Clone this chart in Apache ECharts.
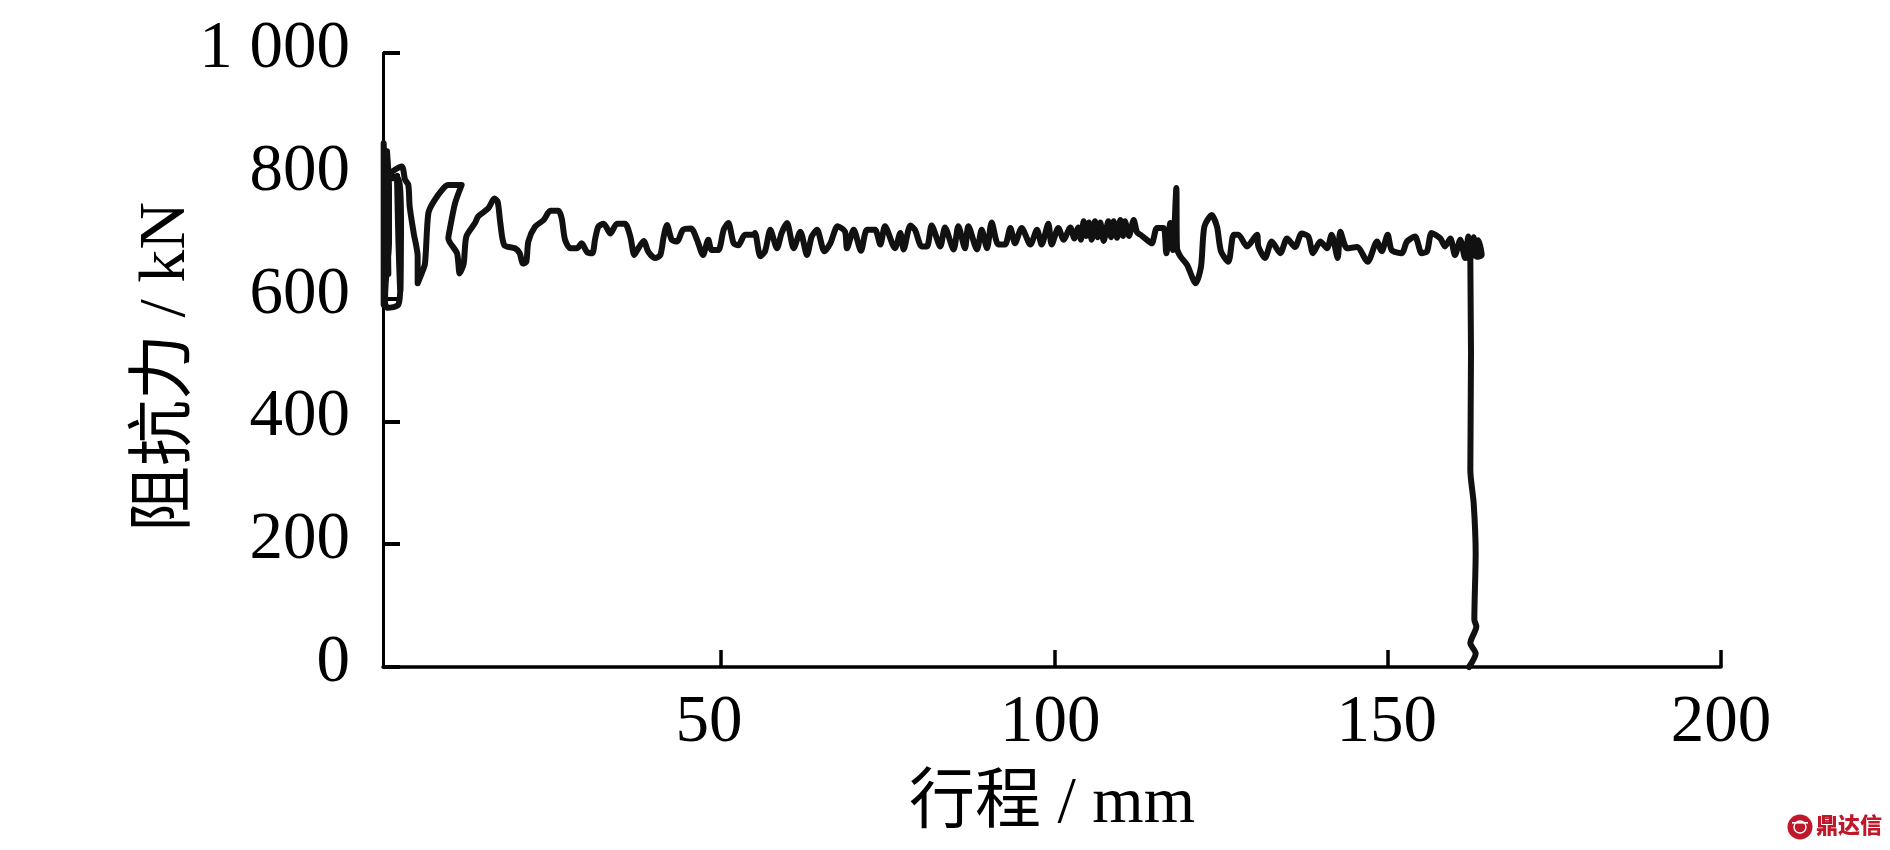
<!DOCTYPE html>
<html><head><meta charset="utf-8">
<style>html,body{margin:0;padding:0;background:#fff}#c{width:1890px;height:850px}</style>
<script src="https://cdn.jsdelivr.net/npm/echarts@6/dist/echarts.min.js"></script>
</head><body><div id="c"></div>
<script>
const xTicks = [50, 100, 150, 200];
const yTickLabels = {0:'0',200:'200',400:'400',600:'600',800:'800',1000:'1 000'};
const xTitle = '行程 / mm';
const yTitle = '阻抗力 / kN';
const travel = [
-0.6,-0.6,0.1,-0.1,0.2,0.2,-0.3,-0.4,0.0,1.6,1.9,1.6,1.8,1.4,1.6,1.9,2.0,1.5,-0.6,2.1,2.6,3.1,3.3,3.9,4.5,4.5,
5.1,5.6,6.1,6.9,8.4,9.1,11.1,10.1,9.3,9.1,10.4,10.8,11.4,11.8,13.1,13.6,15.1,16.0,16.5,16.9,17.5,19.1,19.8,20.3,20.8,21.1,22.1,23.4,24.4,25.6,26.1,26.6,27.4,28.4,29.1,29.9,30.7,31.1,31.6,32.4,33.4,34.4,35.6,36.4,37.0,37.6,38.4,39.1,40.1,40.9,41.4,41.9,42.6,43.4,44.3,45.5,46.4,47.3,48.1,48.6,49.6,50.4,51.1,51.9,52.6,53.6,54.9,
55.1,55.9,56.6,57.4,58.4,59.1,59.9,60.9,61.9,62.9,63.6,64.4,65.5,66.4,67.5,68.6,68.9,69.9,71.0,71.9,73.1,73.9,74.6,76.1,76.9,77.4,78.4,79.1,80.1,80.9,81.6,82.9,83.6,84.9,85.6,86.6,87.1,88.4,89.1,89.9,90.6,91.6,92.6,93.4,94.1,95.1,96.4,97.4,98.1,99.1,99.6,100.6,101.4,
102.4,103.0,103.6,104.0,104.4,104.8,105.2,105.6,106.1,106.5,106.9,107.4,108.1,108.5,108.9,109.4,109.9,110.3,110.6,111.2,111.9,112.4,112.9,
113.6,114.6,115.4,116.4,116.8,117.4,117.8,118.3,118.4,118.9,119.9,121.2,122.0,122.5,123.6,124.4,125.0,126.1,126.9,127.6,128.9,130.4,130.6,131.6,132.6,133.9,134.9,136.1,137.1,138.1,138.8,139.9,140.9,141.6,142.5,142.9,143.9,145.4,147.0,148.4,149.1,150.0,150.6,152.1,152.9,154.1,155.1,155.9,156.6,157.9,158.6,159.4,160.1,160.9,161.6,
162.1,162.4,162.9,163.2,163.6,164.1,163.4,162.6,162.1,163.1,162.4,
162.5,162.4,162.9,163.2,163.0,163.3,162.4,163.2,162.2];
const force = [
590,853,640,840,780,690,625,593,585,590,625,700,780,800,700,610,720,796,796,815,794,785,750,707,669,625,
641,657,739,758,780,785,785,755,712,698,674,641,657,701,723,734,747,763,758,723,687,682,674,657,660,693,717,728,743,743,731,696,682,682,690,676,674,696,717,722,706,722,722,701,671,682,694,676,666,671,701,720,696,693,712,714,696,671,696,679,679,712,723,690,687,704,704,
707,669,677,712,682,707,723,682,709,671,701,712,677,690,718,709,682,712,678,712,712,688,718,682,707,680,719,712,685,685,719,685,716,680,718,682,718,680,712,682,724,688,688,715,690,715,688,712,688,722,688,715,696,
716,698,716,696,726,702,724,696,726,700,724,694,726,700,726,699,728,702,726,702,728,708,704,
698,690,715,715,674,723,679,780,682,669,655,625,652,717,736,717,677,660,704,704,685,704,685,666,693,674,698,684,706,701,674,693,682,704,666,709,682,684,660,693,677,704,679,674,693,701,674,677,707,698,685,698,671,696,666,
701,668,700,672,695,671,668,690,666,682,663,
511,321,267,185,77,66,39,22,0];
// The x tick labels sit a little left of their ticks in the reference.
const xLabelShift = {50:'far',100:'mid',150:'near',200:'none'};

const font = '"Liberation Serif","Noto Sans CJK SC",serif';
const ink = '#000';
const chart = echarts.init(document.getElementById('c'), null, {renderer:'canvas'});
chart.setOption({
  animation:false,
  backgroundColor:'#fff',
  grid:{left:383,right:169,top:53,bottom:183,containLabel:false,outerBoundsMode:'none'},
  xAxis:{
    type:'value',min:-0.7,max:200,
    name:xTitle,nameLocation:'middle',nameGap:105,
    nameTextStyle:{fontFamily:font,fontSize:66,color:ink},
    splitLine:{show:false},
    axisLine:{onZero:false,lineStyle:{color:ink,width:3.5}},
    axisTick:{inside:true,length:17,lineStyle:{color:ink,width:3.5},customValues:xTicks},
    axisLabel:{fontFamily:font,fontSize:67,color:ink,margin:23,customValues:xTicks,
      formatter:v=>'{'+xLabelShift[v]+'|'+v+'}',
      rich:{
        far:{fontFamily:font,fontSize:67,color:ink,padding:[0,24,0,0]},
        mid:{fontFamily:font,fontSize:67,color:ink,padding:[0,8,0,0]},
        near:{fontFamily:font,fontSize:67,color:ink,padding:[0,2,0,0]},
        none:{fontFamily:font,fontSize:67,color:ink}
      }}
  },
  yAxis:{
    type:'value',min:0,max:1000,interval:200,
    name:yTitle,nameLocation:'middle',nameGap:183,nameRotate:90,nameMoveOverlap:false,
    nameTextStyle:{fontFamily:font,fontSize:66,color:ink,padding:[0,14,0,0]},
    splitLine:{show:false},
    axisLine:{onZero:false,lineStyle:{color:ink,width:3}},
    axisTick:{inside:true,length:17,lineStyle:{color:ink,width:4}},
    axisLabel:{fontFamily:font,fontSize:67,color:ink,margin:33,
      formatter:v=>'{a|'+yTickLabels[v]+'}',
      rich:{a:{fontFamily:font,fontSize:67,color:ink,padding:[0,0,7,0]}}}
  },
  series:[{
    type:'line',showSymbol:false,clip:false,smooth:0.25,
    data:travel.map((x,i)=>[x,force[i]]),
    lineStyle:{color:'#111',width:6,join:'round',cap:'round'}
  }],
  graphic:[
    {type:'circle',shape:{cx:1800,cy:827,r:12.5},style:{fill:'#c0182b'},silent:true},
    {type:'rect',shape:{x:1792,y:822,width:16,height:1.6},style:{fill:'#fff'},silent:true},
    {type:'circle',shape:{cx:1800,cy:827,r:6},style:{fill:'none',stroke:'#fff',lineWidth:1.4},silent:true},
    {type:'text',left:1816,top:814,style:{text:'鼎达信',fontFamily:'"Noto Sans CJK SC"',fontWeight:900,fontSize:22,fill:'#c0182b'},silent:true}
  ]
});
</script></body></html>
